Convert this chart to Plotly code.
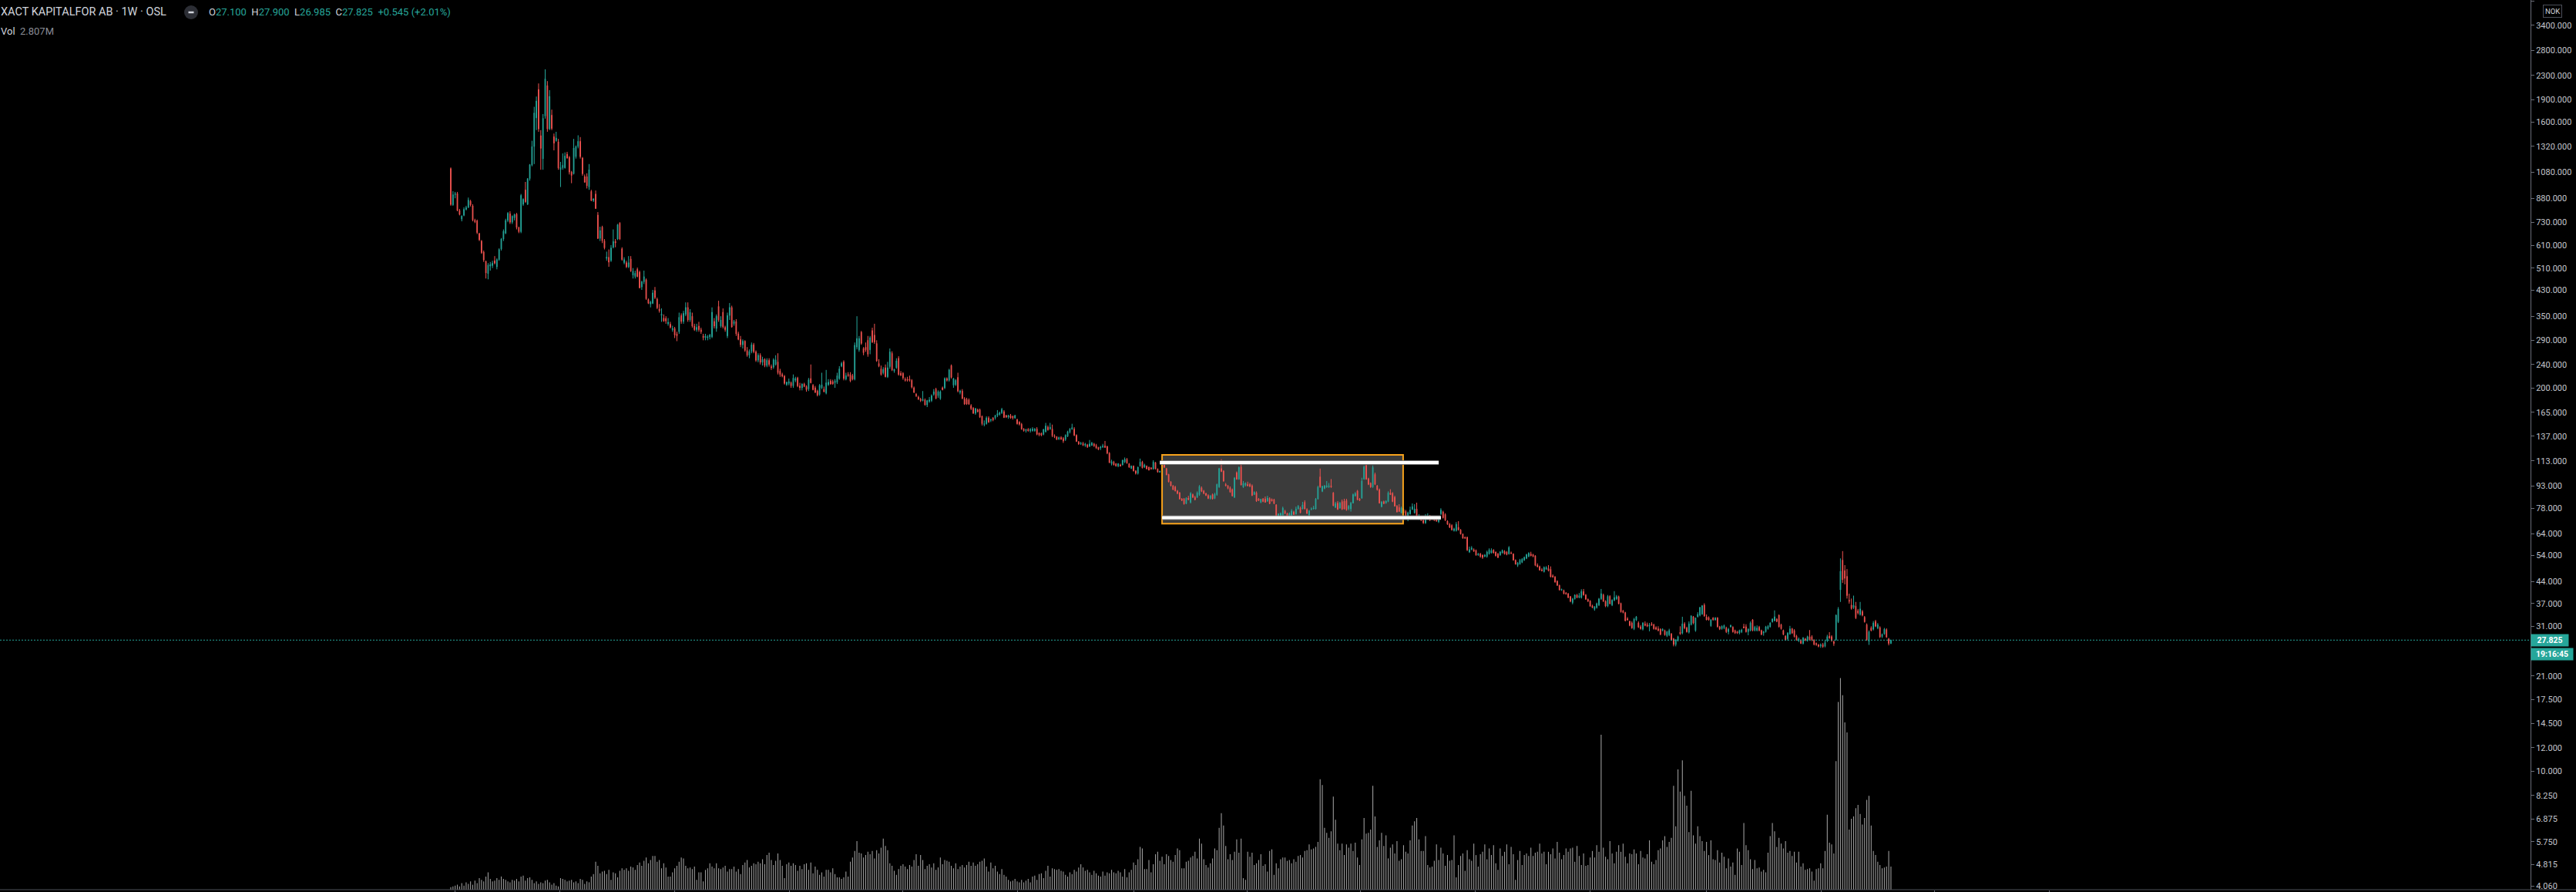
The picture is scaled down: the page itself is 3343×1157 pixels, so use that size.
import math
import plotly.graph_objects as go

# ---------------- data: weekly candles, oldest -> newest (prices in NOK) ----------------
opens = [
1110,836,905,913,800,748,770,807,820,860,
830,742,738,668,630,578,538,488,518,520,
540,515,545,592,640,670,740,780,730,755,
778,700,678,840,940,840,1026,1140,1319,1650,
2060,1436,1198,1672,2125,1513,1686,1425,1380,1369,
1100,1117,1117,1242,1212,1080,1066,1218,1319,1374,
1205,1043,1043,960,929,865,910,772,643,703,
631,550,555,541,600,628,640,725,593,532,
532,515,548,482,477,505,494,440,458,466,
399,385,387,428,400,370,352,345,344,330,
329,315,318,305,310,352,336,355,375,340,
350,324,315,324,315,300,296,296,298,298,
336,318,378,324,361,321,300,352,375,330,
336,305,292,280,288,268,258,266,280,265,
248,258,244,250,238,248,236,235,240,245,
228,222,219,205,207,208,203,212,216,203,
200,206,202,198,215,204,200,195,190,200,
198,192,205,211,210,208,209,215,237,245,
214,222,222,220,214,275,269,309,272,275,
290,269,313,302,283,242,232,225,234,218,
236,262,228,234,252,224,224,214,214,214,
212,200,190,186,183,181,182,175,180,181,
190,198,188,184,200,200,215,212,238,204,
205,217,193,195,184,183,182,174,170.5,164,
168.5,168.5,160,150,151,158,155,158,158,161,
162.5,164.5,166,161,159,161,160,158,156,153,
150.5,145,143,144.5,143,143,143,145,140.5,140,
139,142,147,145,145,137.5,136.5,134,135.5,134.5,
133.5,137,141.5,145,145,138,131,129,129.5,127.5,
128,126.5,127.5,129,127.5,125.5,125,126,127,126.5,
120,110.5,112,110.5,108.5,109.5,109.5,112,114.5,110.5,
106.5,108.5,104.5,102.5,108.5,112,107.5,108.5,107.5,107,
106,111.5,106,103.4,105.4,110.5,106.4,101.7,95.9,93,
92.1,89.3,88.1,83.9,83.9,80.9,84.5,81.7,86.8,85,
85,86.8,91.5,89.3,87.6,86.2,84.2,86.8,84.2,86.8,
92.1,106.4,104.3,94,93,91.5,90.2,85,103,97.9,
107.8,92.1,93.4,94,94,93,86.8,88,83.9,81.7,
83.9,83.9,82.5,84.2,83.7,83.4,80.1,73.1,73.4,73.8,
76.4,74.9,73.4,73.8,75.8,74.6,77.6,78.1,77.6,81.7,
77.3,73.8,77.3,77.6,77.6,83.9,99.7,89,91.1,92.1,
92.1,93,88,78.5,81.2,78.1,82.2,82.5,82.9,77.6,
77.6,81.2,85.9,89.3,83.9,84.5,97.9,109,98.3,94.9,
92.1,101.7,93,90.2,79,82.2,81.2,82.2,88,87.6,
85,79.3,78.5,75.3,77.3,76.1,72.1,74.6,77.3,75.3,
77.6,71.7,71.9,71,69.6,71.7,73.4,73.1,72.4,72.8,
70.2,74.6,75.8,74.3,70.5,68.8,68.2,65.5,65.5,67.2,
65.9,63.8,62.1,62.1,55.4,56.5,56.5,56.1,54.1,54.6,
54.1,53.5,53.5,54.6,55,56.3,55.4,54.6,54.1,55,
55.7,55.4,54.6,55,54.6,52,49.9,50.4,51.1,52,
52.7,53.5,54.6,54.3,53.8,50,49.4,48.2,47.5,48.4,
48.7,48.4,46,45.6,44.1,42.7,41.1,41,40.2,40,
39.1,37.3,38.4,39.6,38.8,38.8,40.7,39.6,38.3,37.8,
36.4,35.4,35.9,36.6,38.4,39.6,37.7,36.3,39.2,36.6,
38,38.4,39.1,37.1,35,34.5,32.9,32.2,31.8,30.4,
32.6,31.8,30.9,30.3,31.6,31.4,31,31.6,31.4,30.7,
30.4,30.3,30,30,28.8,29,29.2,28.1,26.9,27.7,
29.6,29.4,31.6,30.6,29.6,31.4,33.4,30,33.4,33.8,
34.1,36.6,33.4,33.2,31.1,33.1,32.6,33.1,30.9,30.4,
30.6,30.6,29.7,30.9,30.8,30,29.7,29.4,29.7,30.9,
30.9,29.7,30,32.6,30,30,30.8,30,29.4,29.7,
30.4,30.9,32.1,32.4,32.8,33.8,31.4,30,28.7,28.1,
29.2,30.4,30,28.7,27.7,27.8,27.1,28.1,27.7,28.6,
28.6,27.8,27.1,26.8,26.6,26.9,26.5,27.7,28.7,28.6,
27.5,27.9,32.1,41.2,52,47.9,45.8,38,36.6,35.9,
36.3,35,34,34.8,33.3,31.4,27.5,30.6,30.3,32.2,
30.6,30.7,28.6,29.2,30.2,28.1,27.1,
]

highs = [
1120,930,925,925,810,770,820,830,885,870,
840,750,745,672,635,585,540,530,535,540,
560,550,595,645,690,750,790,795,770,780,
785,705,910,880,1000,1030,1150,1380,1800,1950,
2160,1500,1700,2412,2200,2050,1760,1460,1480,1400,
1170,1250,1260,1265,1225,1090,1400,1330,1440,1420,
1215,1060,1070,1150,940,880,935,790,705,710,
640,580,590,610,690,640,720,730,600,555,
540,560,560,510,500,512,500,462,500,470,
402,395,430,440,405,385,372,355,350,345,
335,325,322,310,360,358,365,390,390,370,
360,330,330,335,320,305,305,302,305,375,
345,355,395,350,372,325,360,388,380,340,
342,310,300,292,290,275,270,285,284,268,
262,262,255,252,252,252,240,252,258,262,
232,225,221,210,215,210,222,218,218,208,
207,208,204,216,240,206,203,197,206,225,
202,230,214,214,213,214,225,237,245,248,
225,226,226,223,285,350,300,312,275,285,
300,300,320,330,290,250,238,235,240,245,
272,266,232,252,256,228,226,217,218,220,
214,202,192,188,185,195,184,182,186,190,
198,200,196,196,202,217,217,232,240,216,
214,225,197,198,186,185,184,176,172,171,
170,170,161,155,160,160,157,159,162,168,
166,171,168,162,162,163,161,162,157,154,
152,146,145,146,146,147,146,147,141,141,
145,152,149,152,150,139,137,136.5,137,136,
139,143,146,151,147,139,132,131,131,130,
129,133,131,130,129,126,127,129,132,127,
121,114,113,111,111,110.5,114,116,115.5,111,
109,109,105,108,115,113,110.5,109,108,107.5,
113.5,112,106.5,104.5,111,112,107,102,96.5,93.5,
93,90,88.5,84.5,84.5,85,86,88.5,87.5,86,
89,93.5,92.5,90,88,87,86.5,87.5,88,94.5,
107,114.5,105,95,93.5,92.5,91,99.5,104,108,
112.2,96.5,95.5,96,95,94,89,89,84.5,84,
84.5,85.5,86,85,84.2,84,80.5,75,75.5,79,
77,75.3,75.5,77.5,76.5,79,80,79,82,83,
78,77,78.5,79.5,84.5,93,106.4,93,93.5,96.5,
95,98,88.5,82,82.5,82,83.5,84,84,80,
82,87.5,88.5,90,84.5,99,109,113.4,99,95.5,
109,103,93.5,91,82.5,82.8,83,89,90.5,88.5,
86,80,80.5,79,78,77,76,79,81,80.5,
81.5,74.5,72.5,71.5,74.5,75,74,73.5,73,73.5,
73,78,76.5,75,71,69.5,68.8,67,70,70.5,
66.3,64,62.5,62.5,57.8,58,57,56.5,55,55,
54.3,54.5,56,57,57,56.6,55.6,55,55.8,56.5,
56.2,55.8,58,55.6,54.8,52.3,51.2,52.5,52.8,53.5,
54.6,55.3,55.5,54.6,54,50.7,49.8,48.8,49.5,49.6,
50,49.5,46.5,45.9,44.4,42.9,41.6,41.3,40.5,40.2,
39.3,38.7,39.8,39.9,40.2,41.4,41.5,39.9,38.5,38,
36.7,36.3,37.3,38.7,41.5,40,38,39.6,39.5,38.3,
40.8,39.6,39.4,37.3,35.2,34.7,33.3,32.4,32.2,33.1,
33.6,32.2,31.3,32,32.2,31.9,31.8,32,31.6,31,
31,30.5,30.5,30.2,29.9,30.4,29.4,28.3,28,28.8,
31,33.4,32,30.9,32.2,33.8,33.6,33.2,34.6,36.1,
36.6,37.1,34,33.5,32.8,33.3,33.3,33.3,31.1,31.2,
31.4,30.9,30.6,31.4,31,30.2,29.9,30.2,30.4,31.6,
31.5,30.5,32.2,32.8,31.1,31.2,31.1,30.2,29.9,31.1,
31.3,32,33,35.1,33,34,31.6,30.2,28.9,29.6,
31.1,30.6,30.3,29,28.4,28,28.5,28.3,28.8,30.1,
28.9,28,27.3,27,27.1,27.2,27.8,29,29.6,28.9,
27.7,34,36,52.7,55.8,50,48.5,40,38.5,39.4,
37.5,35.5,37.5,35.2,33.6,31.7,30,31,32.3,32.6,
31.8,31,29.3,30.6,30.5,28.3,27.9,
]

lows = [
830,830,880,795,770,735,765,800,815,825,
735,725,665,630,570,535,470,467,500,510,
525,505,540,585,630,665,730,720,720,740,
690,670,670,830,850,835,1010,1130,1150,1500,
1480,1100,1100,1640,1480,1500,1500,1280,1370,1100,
961,1100,1110,1200,1060,990,1060,1200,1300,1200,
1050,995,950,940,860,855,810,640,630,620,
590,540,515,535,595,600,635,635,540,525,
510,510,495,470,470,475,435,430,450,398,
385,375,385,400,370,360,335,335,330,325,
318,310,295,288,305,330,330,350,335,335,
320,312,310,310,305,290,290,290,292,295,
318,310,335,320,318,310,295,340,320,325,
300,290,275,272,265,255,252,262,262,245,
244,240,238,235,235,236,230,232,238,222,
218,217,205,203,204,200,200,209,201,196,
196,201,194,195,207,196,192,187,188,198,
193,190,203,205,205,200,206,213,235,212,
212,218,209,212,212,270,265,280,258,265,
255,260,284,282,245,235,220,222,217,216,
232,228,225,232,220,219,213,210,210,210,
199,192,186,182,179,180,174,172,178,179,
188,183,185,182,196,198,210,210,215,200,
203,193,190,183,175,175,175,168,163,162,
165,158,149,148,150,152,153,154,156,159,
161,163,158,158,157,157,156,157,150,149,
144,142,141,142,141,142,142,138,137,137,
138,141,143,144,136,135,133,133,133,130,
132,136,140,144,137,131,128,128,127,126,
125,126,127,126,124,123,123,125,125,119,
111,109,109,108,107.5,108,109,111,110.5,107,
106,104,101.5,101.5,108,106.5,107,106,105,105.5,
105.5,106,103,103,105,107,101,95.5,92.5,90,
89,87,83.5,82.5,80.3,80.5,83,81,84.5,83,
84.5,86,88.5,87,85.8,83.8,83.5,83.5,83.8,86,
91.5,103.5,96,92.5,90.5,88,85.5,84.5,97.5,97.5,
93.3,91.5,92.5,92.5,92,85.8,86.5,82,82.5,81.2,
81.8,81.5,82,80.5,82.3,80.5,72.1,71.3,72.8,73.5,
74.5,72.7,73,73.5,74,74.2,77.2,75,77.3,77.3,
74.6,73.5,76.8,77.3,77.2,83.5,91.5,88.5,90.5,91.5,
91.5,91.5,79.3,78.2,77,77.7,77,77.2,76.5,76.8,
76,81,85.5,83,82.5,84,97.5,97.5,93.5,91.5,
91.5,93.5,89.5,80.9,78.5,80.5,80.8,81.8,86.5,81.8,
79,75.5,75.8,74.9,75,72,70.5,74.2,77,74.8,
72.5,71.3,70.5,69,69,71.3,70.6,71.3,70.6,70.2,
69.5,74,72,70.6,68.5,66.8,65.5,65,65,65.5,
63.5,61.5,61.5,55.8,55,56.2,55.5,53.8,53.8,53,
52.5,53.2,53,54.3,54.8,54.8,53.5,52.8,53.8,54.8,
54.3,54,54.3,54.5,51.8,50.2,49.3,50.2,50.8,51.7,
52.4,53.2,53.6,53.2,49.6,49.1,47.9,47.6,47.2,48.2,
47.6,45.4,45.3,43.6,42.5,41,40.9,39.8,39.7,38.6,
37.4,36.8,38.2,38.6,38.6,38.5,39.4,38.1,37.5,36.1,
35.7,35,35.6,36.3,38.1,37.5,36,36,36.8,36.3,
37.7,38.1,36.8,34.5,34.3,32.2,32.4,31,30.4,30.1,
32.3,30.6,30.2,30,31,30.8,29.8,31.1,30.2,30.1,
29.8,28.9,29.8,28.8,28.5,28.7,27.7,26.5,26.5,27.5,
29,29.1,30.3,29.5,29.3,31.2,31.5,29.7,33.2,33.5,
33.9,33.4,32.5,32.4,30.9,32.4,32.4,30.7,30.1,30.2,
30.3,29.4,29.1,30.7,29.5,29.2,29.2,29.1,29.4,30.5,
29.5,28.9,29.8,29.8,29.8,29.8,29.8,28.9,28.8,29.5,
30.2,30.7,31.9,32.2,32,30.7,30.2,28.9,27.7,27.7,
29,29.2,28.4,27.7,27.4,27,26.9,27.6,27.5,27.7,
27.6,26.7,26.6,26.3,26.2,26.2,26.3,27.4,28.1,27.5,
26.6,27.7,31.8,37.5,43.5,43,38.5,37,35.3,35.5,
32.8,34,33.7,33.5,31.9,27.7,26.8,29.8,30,30.8,
30.3,28.3,28.3,29,28.3,26.7,26.985,
]

closes = [
838,905,912,800,775,766,807,818,868,835,
742,732,673,636,575,543,491,522,525,530,
530,545,590,640,680,740,783,730,765,775,
700,678,900,873,856,1026,1145,1319,1715,1883,
1513,1300,1645,2240,1513,1952,1519,1354,1410,1115,
1120,1140,1225,1205,1080,1052,1304,1319,1374,1218,
1066,997,970,1101,865,876,812,643,684,631,
597,556,534,597,628,621,716,640,545,545,
515,532,498,498,490,477,437,458,477,401,
387,391,420,405,374,365,356,337,337,334,
321,318,302,300,347,336,358,375,340,361,
324,315,321,315,310,296,300,298,302,361,
324,350,340,340,322,315,352,375,322,336,
305,292,280,288,268,258,266,280,265,248,
258,244,250,238,248,240,234,249,249,225,
222,219,207,209,210,203,216,215,203,200,
206,202,197,213,208,197,193,189,204,205,
194,208,209,206,206,211,220,232,242,215,
220,220,211,214,279,294,294,283,263,269,
260,296,286,286,247,237,222,231,218,234,
265,230,231,247,222,221,216,212,212,212,
201,193,188,183,181,183,175,181,182,188,
194,184,194,194,197,215,212,230,217,215,
212,195,195,184,176,176,176,170,164,170,
166,159,151,151,158,153,156,155.5,161,163.5,
164.5,169,158.5,159,161,158,158,161,151,150.5,
145,143,144.5,143,144.5,145,145,139,138.5,138,
144.5,148.5,144,147,137.5,136.5,133.5,135.5,134,132,
138,142,145,146.5,138,131.5,129,130,127.5,129,
126,129,130,127,125,123.5,126,127,125.5,120,
111.5,112.5,109.5,108.5,110.5,108.5,113.5,114.5,111,107.5,
108.5,104.5,102.5,107.5,112,107,109.5,106,105,106,
112,106,103.5,104.3,110.5,107.4,101.3,95.9,93,90.2,
89.3,87.6,83.9,82.9,80.6,84.5,83.4,87.6,85,83.4,
88,92.6,89,87.6,86.2,84.2,85.9,83.9,87.2,94,
106.4,104,96.5,93,91.1,88.5,85.9,98.8,97.9,107.4,
93.6,94.9,94.9,93,92.6,86.2,88.5,82.5,82.9,83.7,
82.2,81.7,84.5,80.9,82.5,80.9,72.4,74.6,74.9,78.1,
74.9,73.1,74.9,76.4,74.3,77.6,79.3,75.3,80.1,77.6,
74.9,76.4,77.6,78.1,83.9,92.1,92.1,92.6,93,93,
93,92.1,79.6,80.9,77.3,81.2,77.3,77.6,76.9,79.3,
81.2,86.8,87.6,83.4,82.9,96.5,107.8,97.9,94,92.1,
107.4,94,90.2,81.2,81.9,80.9,82.5,88,86.8,82.2,
79.3,75.8,76.1,78.1,75.3,72.4,75.3,76.9,79,77.6,
73.1,73.1,71,69.6,73.1,73.4,71,71.7,71,70.5,
72.4,76.9,72.4,71,68.8,67.2,65.9,66.4,68.8,65.9,
63.8,61.7,61.7,56.3,56.5,57.2,55.7,54.1,54.6,53.5,
53.1,54.1,55.4,56.3,56.1,55,53.8,53.1,55.4,56.1,
54.6,54.3,57.4,54.8,52,50.4,50.9,52,52.4,53.1,
54.3,54.9,53.8,53.5,49.9,49.4,48.1,47.9,49.1,49.1,
47.9,45.7,45.6,43.8,42.7,41.2,41.4,40,39.9,38.8,
37.7,38.4,39.6,38.8,39.4,40.7,39.6,38.3,37.7,36.3,
35.9,36.1,37,38.4,40,37.7,36.3,39.2,37,38,
38.8,39.1,37,34.7,34.5,32.4,32.6,31.2,30.6,32.8,
33.4,30.8,30.4,31.8,31.2,31,31.3,31.3,30.4,30.3,
30,29.1,30.3,29,29.7,30,27.9,26.9,27.9,28.6,
29.2,31.6,30.6,29.7,31.6,33.6,31.8,33.1,34,35.9,
36.4,33.6,32.6,32.6,32.6,32.6,33.1,30.9,30.3,31,
31.2,29.7,30.3,31.2,29.7,29.4,29.4,30,30.1,30.6,
29.7,30.3,31.8,30,30.8,30.6,30,29.1,29.7,30.9,
31,31.8,32.8,33.4,32.2,30.9,30.4,29.1,27.9,29.4,
30.4,29.4,28.6,27.9,28.1,27.1,28.3,27.8,28.6,27.9,
27.9,26.9,26.9,26.5,26.8,26.4,27.3,28.6,28.3,27.7,
27.1,33.8,35.5,47.7,44.6,45.1,39.4,37.7,35.6,36.6,
33.1,34.4,35.5,33.8,32.1,27.9,29.7,30,31.8,31,
31.4,28.5,29.1,30.3,28.5,27.1,27.825,
]

# weekly volume, millions of shares
volumes = [
0.3,0.4,0.5,0.6,0.4,0.8,0.5,0.9,0.7,1.0,
0.6,1.1,0.8,1.4,1.2,1.0,1.6,2.1,1.3,1.0,
1.1,1.4,1.2,1.6,1.3,1.2,1.0,0.9,1.2,1.1,
1.3,1.0,1.6,1.7,1.1,1.4,1.5,1.2,0.8,1.0,
0.7,0.9,0.8,1.1,1.2,0.9,0.6,0.8,0.5,0.4,
1.4,1.3,1.2,1.0,1.1,1.2,0.9,1.0,0.8,1.3,
1.2,0.7,1.0,0.9,1.6,1.9,3.4,2.9,2.0,2.2,
2.3,1.9,2.4,1.2,2.1,2.0,1.5,2.3,2.6,2.4,
2.6,2.3,2.8,2.7,2.4,3.0,3.3,2.9,3.5,3.9,
3.2,3.6,4.1,4.1,3.4,3.6,2.6,3.2,2.7,1.6,
1.6,2.1,2.6,2.9,3.4,3.9,3.8,2.9,2.6,2.7,
2.5,2.8,1.2,2.1,2.1,1.0,2.4,2.6,3.2,2.8,
2.6,3.2,2.6,2.5,2.7,2.9,2.2,2.5,2.5,2.8,
2.2,2.5,1.9,3.0,3.3,3.6,2.7,2.9,3.2,3.1,
3.4,3.2,3.7,3.1,4.2,4.5,3.6,3.0,3.5,4.4,
3.6,2.9,1.4,3.1,3.3,2.9,3.2,3.0,2.3,2.9,
2.5,3.1,3.2,2.4,3.3,2.0,2.8,2.4,1.8,2.1,
1.6,2.4,2.4,2.1,2.6,1.9,1.5,1.5,1.3,1.5,
2.2,1.6,3.4,3.9,4.7,5.9,4.5,4.4,3.9,4.2,
4.6,4.3,4.7,3.8,4.8,4.4,5.1,6.2,5.3,4.8,
3.2,2.9,2.3,1.8,2.5,2.9,3.1,2.8,2.5,3.0,
2.8,3.6,4.3,2.9,4.2,3.6,2.5,2.9,3.1,2.7,
3.2,2.4,2.7,3.9,3.1,3.6,3.5,3.4,2.9,2.6,
3.2,2.5,2.8,3.0,2.7,3.0,3.4,2.9,3.3,2.9,
3.1,3.4,3.5,3.8,2.8,2.2,3.3,2.6,2.9,2.2,
1.9,2.5,1.8,1.6,1.2,1.0,1.1,1.3,1.0,0.9,
1.2,0.9,1.1,1.3,0.9,1.6,1.7,1.2,1.9,2.0,
1.4,2.3,2.9,1.6,2.6,2.5,2.4,2.5,2.3,2.2,
1.8,1.6,2.1,1.9,2.4,2.2,2.7,3.1,2.7,2.3,
2.4,2.1,1.8,2.3,2.0,1.7,1.6,2.2,1.7,2.1,
2.0,2.4,2.1,2.0,2.3,2.1,1.6,2.5,1.5,2.1,
2.4,3.3,3.0,3.7,5.2,5.0,2.5,2.5,3.6,2.1,
3.1,4.3,4.6,3.5,4.0,3.1,4.3,4.1,3.6,3.4,
4.2,5.0,4.8,2.6,2.6,3.4,3.5,3.9,4.1,4.6,
3.8,6.2,5.6,3.7,3.0,2.7,3.2,3.8,5.0,4.8,
7.5,9.3,7.8,5.3,3.7,4.3,3.6,4.6,6.1,4.5,
6.2,1.4,1.2,4.6,4.0,4.5,3.0,3.2,3.6,4.3,
2.9,3.1,2.2,4.7,4.9,1.8,3.2,2.6,3.7,3.9,
3.9,3.5,3.6,3.2,3.7,3.4,4.1,4.2,3.9,4.7,
4.8,5.5,4.9,5.0,5.2,5.8,13.4,12.7,7.5,6.9,
6.3,7.1,11.3,8.5,5.6,4.8,5.6,4.2,5.5,5.1,
5.6,4.7,5.7,3.9,3.0,6.1,8.7,6.8,6.9,7.3,
12.6,8.9,5.2,6.0,6.9,5.3,6.6,3.8,5.1,5.5,
4.4,5.9,3.5,3.7,5.4,4.6,4.4,6.0,7.8,8.3,
8.7,6.1,4.7,4.7,6.5,3.0,2.7,2.8,3.5,5.5,
3.6,5.1,4.4,2.9,4.2,3.5,3.6,6.6,1.5,3.0,
4.1,4.4,2.3,4.8,3.7,3.5,5.6,4.2,2.8,4.3,
4.6,5.5,3.7,5.0,4.2,5.4,3.2,2.4,5.0,4.1,
4.6,5.5,3.1,5.2,4.3,1.2,3.6,4.7,3.0,4.2,
4.4,4.1,5.1,4.1,4.5,4.6,5.6,4.4,4.6,3.1,
4.6,4.3,5.0,3.8,5.8,4.5,3.7,4.2,5.0,4.6,
5.0,5.1,3.4,5.3,4.1,3.0,4.4,2.9,3.0,3.9,
4.7,3.9,5.4,4.6,18.8,5.1,4.0,3.7,5.9,4.4,
3.2,4.6,5.4,4.6,5.6,4.0,3.2,4.4,4.3,4.9,
4.4,3.1,4.7,3.9,3.8,4.3,6.0,3.4,3.1,3.6,
4.8,5.0,6.0,6.5,5.2,5.8,6.3,12.6,7.7,14.6,
11.9,15.7,11.4,10.2,7.0,12.0,6.6,5.6,7.7,6.5,
5.9,4.7,5.8,4.2,6.0,3.7,3.6,4.8,3.3,4.5,
4.0,2.6,3.8,2.8,3.3,1.8,5.0,4.6,3.0,8.1,
5.4,4.8,3.7,2.5,3.6,2.6,2.7,2.2,2.4,2.1,
4.5,6.5,8.1,7.1,5.2,6.3,5.6,5.0,5.9,4.5,
4.7,4.1,4.6,3.3,4.6,2.8,3.2,2.4,2.5,2.6,
2.2,1.1,2.5,2.6,3.2,2.6,4.7,9.1,5.7,5.5,
4.4,15.6,22.8,25.7,23.6,20.3,19.1,7.3,8.6,8.9,
9.9,10.3,9.2,7.9,8.7,10.9,11.4,7.8,4.7,4.2,
3.4,3.0,2.6,2.7,2.8,4.7,2.807,
]

price_ticks = [4100, 3400, 2800, 2300, 1900, 1600, 1320, 1080, 880, 730, 610, 510, 430, 350,
               290, 240, 200, 165, 137, 113, 93, 78, 64, 54, 44, 37, 31, 21, 17.5, 14.5, 12,
               10, 8.25, 6.875, 5.75, 4.815, 4.06]
price_tick_text = ["%.3f" % v for v in price_ticks]

last_price = 27.825
symbol_title = "XACT KAPITALFOR AB · 1W · OSL"
ohlc_last = ("27.100", "27.900", "26.985", "27.825", "+0.545 (+2.01%)")
vol_last = "2.807M"
countdown = "19:16:45"
currency = "NOK"

n = len(closes)
if not (len(opens) == len(highs) == len(lows) == len(volumes) == n):
    raise SystemExit("length mismatch %d %d %d %d %d" % (len(opens), len(highs), len(lows), n, len(volumes)))
idx = list(range(n))

# ---------------- layout geometry ----------------
W, H = 3343, 1157
PR, PB = 59, 3
PW, PH = W - PR, H - PB          # plot area 3284 x 1154
step = 2.849                     # px per weekly bar
first_px = 585.0
x_range = [-first_px / step, (PW - first_px) / step]
y_range = [math.log10(3.954), math.log10(4147)]

def xp(px):
    return px / PW

def yp(py):
    return 1 - py / PH

UP, DOWN = "#26a69a", "#ef5350"
TXT = "#d1d4dc"
AXC = "#6a6d78"

fig = go.Figure()
fig.add_trace(go.Bar(
    x=idx, y=volumes, yaxis="y2", width=0.38,
    marker=dict(color="rgba(185,185,185,0.85)", line=dict(width=0)),
    hoverinfo="skip", showlegend=False))
fig.add_trace(go.Candlestick(
    x=idx, open=opens, high=highs, low=lows, close=closes,
    increasing=dict(line=dict(color=UP, width=1), fillcolor=UP),
    decreasing=dict(line=dict(color=DOWN, width=1), fillcolor=DOWN),
    whiskerwidth=0, hoverinfo="skip", showlegend=False))

# range box drawing (x in bar index, y in price)
box_x = (324.0, 433.8)
box_y = (69.1, 118.4)
top_line = (323.0, 450.0, 111.5)
bot_line = (324.0, 451.0, 72.4)

shapes = [
    dict(type="rect", xref="x", yref="y", x0=box_x[0], x1=box_x[1], y0=box_y[0], y1=box_y[1],
         fillcolor="#3b3b3b", line=dict(width=0), layer="below"),
    dict(type="rect", xref="x", yref="y", x0=box_x[0], x1=box_x[1], y0=box_y[0], y1=box_y[1],
         fillcolor="rgba(0,0,0,0)", line=dict(color="#f7a21b", width=2), layer="above"),
]
for (a, b, lvl) in (top_line, bot_line):
    shapes.append(dict(type="line", xref="x", yref="y", x0=a, x1=b, y0=lvl, y1=lvl,
                       line=dict(color="rgba(120,120,120,0.9)", width=6), layer="above"))
    shapes.append(dict(type="line", xref="x", yref="y", x0=a, x1=b, y0=lvl, y1=lvl,
                       line=dict(color="#ffffff", width=4), layer="above"))
# last price line
shapes.append(dict(type="line", xref="paper", yref="y", x0=0, x1=1, y0=last_price, y1=last_price,
                   line=dict(color=UP, width=1, dash="2px,2px"), layer="above"))
# bottom pane separator
shapes.append(dict(type="line", xref="paper", yref="paper", x0=0, x1=W / PW, y0=0, y1=0,
                   line=dict(color="#4e5058", width=1)))
# legend collapse button
shapes.append(dict(type="circle", xref="paper", yref="paper", x0=xp(239), x1=xp(257), y0=yp(25), y1=yp(7),
                   fillcolor="#2c2e35", line=dict(width=0)))
shapes.append(dict(type="line", xref="paper", yref="paper", x0=xp(244.5), x1=xp(251.5), y0=yp(16), y1=yp(16),
                   line=dict(color=TXT, width=2.5)))

teal = lambda s: '<span style="color:%s">%s</span>' % (UP, s)
ohlc_text = ("O" + teal(ohlc_last[0]) + "  H" + teal(ohlc_last[1]) + "  L" + teal(ohlc_last[2]) +
             "  C" + teal(ohlc_last[3]) + "  " + teal(ohlc_last[4]))

FONT = "Roboto, Arial, sans-serif"
annotations = [
    dict(text=symbol_title, xref="paper", yref="paper", x=0, y=yp(16), xanchor="left", yanchor="middle",
         showarrow=False, font=dict(family=FONT, size=14.5, color=TXT), borderpad=0),
    dict(text=ohlc_text, xref="paper", yref="paper", x=xp(270), y=yp(16), xanchor="left", yanchor="middle",
         showarrow=False, font=dict(family=FONT, size=13, color=TXT), borderpad=0),
    dict(text='Vol  <span style="color:#8a8d96">%s</span>' % vol_last, xref="paper", yref="paper",
         x=0, y=yp(40), xanchor="left", yanchor="middle", showarrow=False,
         font=dict(family=FONT, size=13, color=TXT), borderpad=0),
    dict(text=currency, xref="paper", yref="paper", x=1, xshift=16, y=yp(14), xanchor="left", yanchor="middle",
         showarrow=False, font=dict(family=FONT, size=9.5, color=TXT), bgcolor="#000000",
         bordercolor="#4a4e59", borderwidth=1, borderpad=2),
    dict(text="<b>%.3f</b>" % last_price, xref="paper", yref="y", x=1, y=math.log10(last_price),
         xanchor="left", yanchor="middle", showarrow=False, width=46, height=13, align="center",
         font=dict(family=FONT, size=10.5, color="#ffffff"), bgcolor=UP, borderpad=1),
    dict(text="<b>%s</b>" % countdown, xref="paper", yref="y", x=1, y=math.log10(last_price), yshift=-18,
         xanchor="left", yanchor="middle", showarrow=False, width=52, height=13, align="center",
         font=dict(family=FONT, size=10.5, color="#ffffff"), bgcolor=UP, borderpad=1),
]

year_ticks = [2.1, 49.5, 101.8, 154.1, 206.0, 258.0, 311.0, 362.6, 414.5, 466.8, 519.1, 572.1, 624.1, 676.0, 728.3]

fig.update_layout(
    width=W, height=H, margin=dict(l=0, r=PR, t=0, b=PB, pad=0),
    paper_bgcolor="#000000", plot_bgcolor="#000000",
    showlegend=False, hovermode=False, dragmode=False,
    boxgap=0.6,
    xaxis=dict(range=x_range, showgrid=False, zeroline=False, showline=False,
               rangeslider=dict(visible=False), showticklabels=False,
               ticks="outside", ticklen=3, tickcolor=AXC, tickvals=year_ticks, fixedrange=True),
    yaxis=dict(type="log", range=y_range, side="right", showgrid=False, zeroline=False,
               showline=True, linecolor=AXC, linewidth=1, ticks="outside", ticklen=4, tickcolor=AXC,
               tickvals=price_ticks, ticktext=price_tick_text, automargin=False,
               tickfont=dict(family=FONT, size=11, color="#c3c5cc"), fixedrange=True),
    yaxis2=dict(overlaying="y", range=[0, 108], visible=False, fixedrange=True),
    shapes=shapes, annotations=annotations,
)

fig.write_html("out.html", config={"displayModeBar": False, "staticPlot": True},
               post_script="document.body.style.margin='0';document.body.style.overflow='hidden';")
